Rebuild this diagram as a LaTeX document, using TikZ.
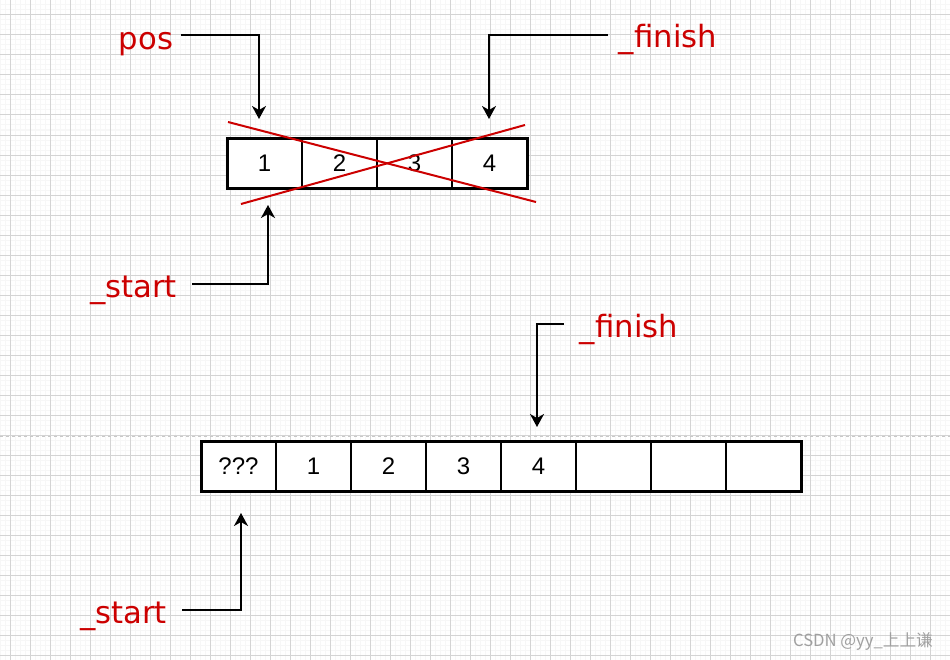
\documentclass[tikz,border=0pt]{standalone}
\usepackage{fontspec}
\setmainfont{Liberation Sans}
\newfontfamily\labfont{DejaVu Sans}
\newfontfamily\cjkfont{Noto Sans CJK SC}
\usetikzlibrary{arrows.meta}
\definecolor{labc}{HTML}{CC0000}
\definecolor{majorg}{HTML}{D4D4D4}
\definecolor{minorg}{HTML}{F7F7F7}
\definecolor{dashg}{HTML}{C8C8C8}
\definecolor{wmc}{HTML}{A0A0A0}
\begin{document}
\begin{tikzpicture}[x=0.75pt,y=-0.75pt,
  minorgrid/.style={draw=minorg,line width=0.75pt},
  majorgrid/.style={draw=majorg,line width=0.75pt},
  cell/.style={draw=black,line width=1.5pt,fill=white,minimum width=56.25pt,minimum height=37.5pt,inner sep=0pt,outer sep=0pt,font=\fontsize{18}{20}\selectfont},
  outline/.style={draw=black,line width=2.25pt},
  crossline/.style={draw=labc,line width=1.5pt},
  arr/.style={draw=black,line width=1.5pt,-{Stealth[length=9.75pt,width=10.5pt,inset=3pt]}},
  lab/.style={text=labc,font=\labfont\fontsize{23}{28}\selectfont,inner sep=0pt,anchor=base}]
\useasboundingbox (0,0) rectangle (950,660);
\fill[white] (0,0) rectangle (950,660);
% grid
\foreach \x in {0,5,...,950} \draw[minorgrid] (\x,0) -- (\x,660);
\foreach \y in {0,5,...,660} \draw[minorgrid] (0,\y) -- (950,\y);
\foreach \x in {10,30,...,950} \draw[majorgrid] (\x,0) -- (\x,660);
\foreach \y in {15,35,...,655} \draw[majorgrid] (0,\y) -- (950,\y);
\draw[dashg,line width=0.75pt,dash pattern=on 2.25pt off 2.25pt] (0,436) -- (950,436);

% top array
\node[cell] (t1) at (264.5,163) {1};
\node[cell] (t2) at (339.5,163) {2};
\node[cell] (t3) at (414.5,163) {3};
\node[cell] (t4) at (489.5,163) {4};
\draw[outline] (t1.north west) rectangle (t4.south east);
\draw[crossline] (228,122) -- (536,202);
\draw[crossline] (241,204) -- (525,125);

% bottom array
\node[cell] (b1) at (238.5,466) {???};
\node[cell] (b2) at (313.5,466) {1};
\node[cell] (b3) at (388.5,466) {2};
\node[cell] (b4) at (463.5,466) {3};
\node[cell] (b5) at (538.5,466) {4};
\node[cell] (b6) at (613.5,466) {};
\node[cell] (b7) at (688.5,466) {};
\node[cell] (b8) at (763.5,466) {};
\draw[outline] (b1.north west) rectangle (b8.south east);

% labels
\node[lab] (pos) at (146,50) {pos};
\node[lab] (fintop) at (668,48) {\_finish};
\node[lab] (starttop) at (133.5,297) {\_start};
\node[lab] (finbot) at (629,337) {\_finish};
\node[lab] (startbot) at (123.5,623) {\_start};

% connector ends
\coordinate (posA) at (181,35);
\coordinate (posB) at (259,119);
\coordinate (ftA) at (608,35);
\coordinate (ftB) at (489,119);
\coordinate (stA) at (192,284);
\coordinate (stB) at (268,205);
\coordinate (fbA) at (564,324);
\coordinate (fbB) at (537,427);
\coordinate (sbA) at (182,610);
\coordinate (sbB) at (241,513);
\draw[arr] (posA) -| (posB);
\draw[arr] (ftA) -| (ftB);
\draw[arr] (stA) -| (stB);
\draw[arr] (fbA) -| (fbB);
\draw[arr] (sbA) -| (sbB);

% watermark
\node[font=\cjkfont\fontsize{12.5}{14}\selectfont,text=wmc,anchor=base,inner sep=0pt] (wm) at (863,646) {CSDN @yy\_上上谦};
\end{tikzpicture}
\end{document}
